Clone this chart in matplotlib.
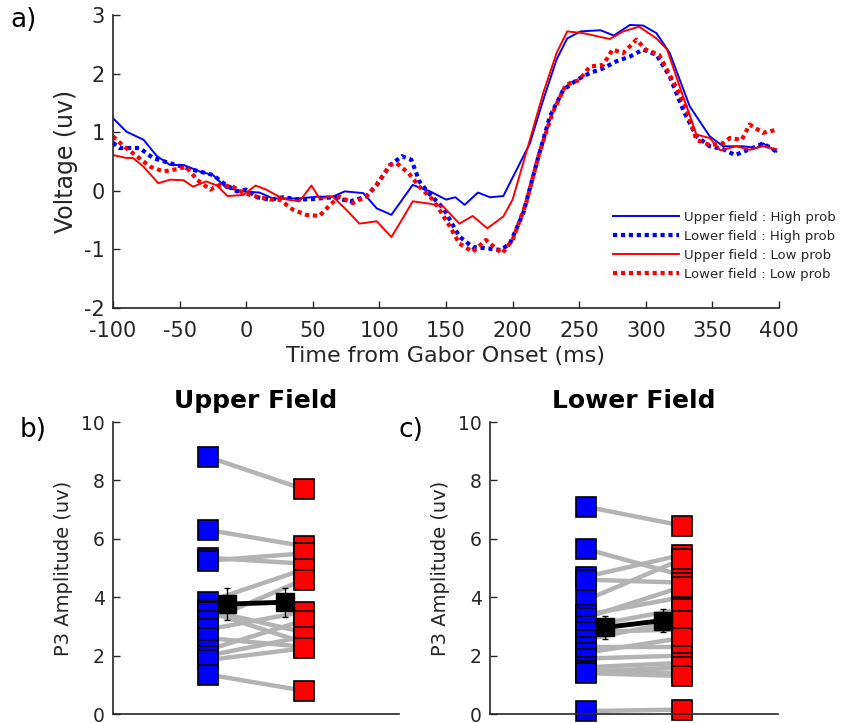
import numpy as np
import matplotlib
matplotlib.use("Agg")
import matplotlib.pyplot as plt

plt.rcParams['axes.unicode_minus'] = False

# ERP waveforms (ms, uV)
t_up_high = [-100, -90, -77, -67, -57, -47, -35, -25, -15, -2, 10, 20, 40, 53, 65, 74, 88, 98, 109, 125,
             138, 150, 157, 164, 174, 183, 193, 203, 213, 223, 233, 241, 251, 266, 276, 288, 298, 308, 318, 333,
             348, 358, 373, 383, 388, 398]
v_up_high = [1.24, 1.01, 0.87, 0.59, 0.44, 0.44, 0.33, 0.27, 0.05, -0.01, -0.03, -0.13, -0.13, -0.10, -0.10, -0.01,
             -0.04, -0.30, -0.41, 0.10, -0.01, -0.15, -0.11, -0.24, -0.03, -0.11, -0.09, 0.36, 0.81, 1.55,
             2.24, 2.60, 2.72, 2.74, 2.65, 2.83, 2.82, 2.69, 2.35, 1.44, 0.93, 0.76, 0.76, 0.73, 0.81, 0.67]

t_lo_high = [-100, -95, -80, -70, -57, -45, -35, -25, -17, -7, 0, 8, 18, 28, 40, 50, 65, 78, 90, 98,
             108, 117, 124, 130, 137, 148, 160, 170, 180, 191, 198, 208, 218, 228, 238, 248, 258, 268, 278, 288,
             298, 308, 318, 328, 338, 348, 358, 367, 378, 388, 398]
v_lo_high = [0.82, 0.73, 0.73, 0.56, 0.47, 0.39, 0.33, 0.27, 0.13, -0.01, 0.02, -0.11, -0.15, -0.11, -0.15, -0.14,
             -0.11, -0.18, -0.10, 0.10, 0.44, 0.59, 0.53, 0.16, -0.04, -0.30, -0.78, -0.96, -0.98, -1.01,
             -0.90, -0.38, 0.47, 1.27, 1.72, 1.89, 2.01, 2.09, 2.21, 2.29, 2.41, 2.32, 1.95, 1.38, 0.93, 0.76,
             0.71, 0.61, 0.71, 0.81, 0.67]

t_up_low = [-100, -90, -85, -77, -66, -57, -47, -40, -30, -22, -14, -2, 7, 15, 28, 40, 49, 55, 65, 75,
            85, 98, 109, 117, 125, 138, 148, 160, 170, 181, 193, 200, 213, 223, 233, 241, 253, 273, 283, 295,
            308, 316, 328, 338, 348, 356, 368, 378, 388, 398]
v_up_low = [0.61, 0.56, 0.56, 0.41, 0.13, 0.19, 0.18, 0.07, 0.16, 0.09, -0.09, -0.07, 0.09, 0.02, -0.14, -0.18,
            0.09, -0.13, -0.10, -0.32, -0.56, -0.52, -0.79, -0.49, -0.18, -0.22, -0.27, -0.56, -0.43, -0.64,
            -0.44, -0.15, 0.87, 1.67, 2.35, 2.72, 2.69, 2.59, 2.72, 2.80, 2.60, 2.41, 1.61, 0.96, 0.90, 0.69,
            0.76, 0.70, 0.76, 0.71]

t_lo_low = [-100, -92, -85, -72, -62, -52, -45, -37, -27, -20, -10, -2, 8, 18, 25, 35, 45, 55, 63, 70,
            80, 90, 98, 108, 113, 122, 130, 140, 145, 153, 160, 170, 180, 192, 200, 210, 220, 230, 240, 250,
            258, 268, 275, 283, 293, 300, 310, 320, 330, 338, 348, 358, 363, 372, 378, 388, 398]
v_lo_low = [0.93, 0.76, 0.64, 0.41, 0.33, 0.37, 0.41, 0.19, 0.02, 0.10, 0.07, -0.04, -0.10, -0.15, -0.15, -0.32,
            -0.41, -0.43, -0.24, -0.10, -0.21, -0.10, 0.10, 0.44, 0.47, 0.30, 0.07, -0.15, -0.32, -0.61,
            -0.90, -1.04, -0.84, -1.07, -0.84, -0.22, 0.64, 1.33, 1.81, 1.89, 2.12, 2.15, 2.41, 2.35, 2.58,
            2.41, 2.32, 1.89, 1.44, 0.87, 0.78, 0.81, 0.90, 0.87, 1.13, 0.99, 1.04]

legend_labels = ['Upper field : High prob', 'Lower field : High prob',
                 'Upper field : Low prob', 'Lower field : Low prob']

# P3 amplitudes per subject (high prob, low prob)
upper_high = [8.8, 6.3, 5.35, 5.25, 3.85, 3.55, 3.5, 3.2, 2.9, 2.6, 2.2, 2.0, 1.85, 1.35]
upper_low = [7.7, 5.75, 5.15, 5.5, 4.95, 2.8, 2.45, 4.6, 3.5, 2.3, 3.2, 2.65, 2.25, 0.8]
lower_high = [7.1, 5.65, 4.7, 4.6, 3.9, 3.4, 3.3, 3.0, 2.8, 2.55, 2.3, 2.1, 1.9, 1.6, 1.5, 1.45, 1.4, 0.1]
lower_low = [6.45, 4.75, 5.45, 4.5, 5.3, 4.0, 4.35, 3.6, 2.9, 3.2, 2.3, 2.6, 2.0, 1.75, 1.4, 1.6, 1.3, 0.15]

dark = '#262626'
W, H = 842, 723
fig = plt.figure(figsize=(W / 100, H / 100), dpi=100)


def px_axes(x0, y0, x1, y1):
    return fig.add_axes([x0 / W, 1 - y1 / H, (x1 - x0) / W, (y1 - y0) / H])


def style_axes(ax):
    for s in ['top', 'right']:
        ax.spines[s].set_visible(False)
    for s in ['left', 'bottom']:
        ax.spines[s].set_color(dark)
        ax.spines[s].set_linewidth(1.2)
    ax.tick_params(direction='in', color=dark, labelcolor=dark, width=1, length=5)


# ---- a) ERP ----
ax = px_axes(113, 15, 779, 308)
style_axes(ax)
dot = (0, (1.0, 0.9))
ax.plot(t_up_high, v_up_high, color='b', lw=1.4, label=legend_labels[0])
ax.plot(t_lo_high, v_lo_high, color='b', lw=3, ls=dot, dash_capstyle='butt', label=legend_labels[1])
ax.plot(t_up_low, v_up_low, color='r', lw=1.4, label=legend_labels[2])
ax.plot(t_lo_low, v_lo_low, color='r', lw=3, ls=dot, dash_capstyle='butt', label=legend_labels[3])
ax.set_xlim(-100, 400)
ax.set_ylim(-2, 3)
ax.set_xticks(np.arange(-100, 401, 50))
ax.set_yticks(np.arange(-2, 4, 1))
ax.tick_params(labelsize=15)
ax.tick_params(axis='x', pad=9)
ax.tick_params(axis='y', pad=6)
ax.set_xlabel('Time from Gabor Onset (ms)', fontsize=16, color=dark, labelpad=4)
ax.set_ylabel('Voltage (uv)', fontsize=17, color=dark, labelpad=4)
leg = ax.legend(loc='upper left', bbox_to_anchor=(613 / W, 1 - 211 / H), bbox_transform=fig.transFigure,
                frameon=False, fontsize=9.5, handlelength=5, handletextpad=0.4, labelspacing=0.45,
                borderpad=0, borderaxespad=0)
for txt in leg.get_texts():
    txt.set_color(dark)

fig.text(10 / W, 1 - 20 / H, 'a)', fontsize=19, va='center', ha='left', color='black')


# ---- b) and c) P3 amplitudes ----
def pair_panel(ax, high, low, title):
    style_axes(ax)
    high = np.array(high)
    low = np.array(low)
    for h, l in zip(high, low):
        ax.plot([1, 2], [h, l], color='#b3b3b3', lw=3.2, zorder=1, solid_capstyle='butt')
    ax.plot(np.ones_like(high), high, ls='none', marker='s', ms=14, mfc='b', mec='black', mew=1.2,
            zorder=2, clip_on=False)
    ax.plot(np.full_like(low, 2), low, ls='none', marker='s', ms=14, mfc='r', mec='black', mew=1.2,
            zorder=2, clip_on=False)
    means = [high.mean(), low.mean()]
    sems = [high.std(ddof=1) / np.sqrt(len(high)), low.std(ddof=1) / np.sqrt(len(low))]
    ax.errorbar([1.2, 1.8], means, yerr=sems, color='black', lw=3.5, marker='s', ms=13, mfc='black',
                mec='black', elinewidth=1, capsize=2.5, capthick=1, zorder=3)
    ax.set_xlim(0, 3)
    ax.set_ylim(0, 10)
    ax.set_yticks(np.arange(0, 11, 2))
    ax.set_xticks([])
    ax.tick_params(labelsize=13.5, pad=6)
    ax.set_ylabel('P3 Amplitude (uv)', fontsize=14, color=dark, labelpad=6)
    ax.set_title(title, fontsize=18, fontweight='bold', pad=10)


axb = px_axes(113, 422, 399, 714)
pair_panel(axb, upper_high, upper_low, 'Upper Field')
axc = px_axes(490, 422, 778, 714)
pair_panel(axc, lower_high, lower_low, 'Lower Field')

fig.text(20 / W, 1 - 430 / H, 'b)', fontsize=19, va='center', ha='left')
fig.text(398 / W, 1 - 430 / H, 'c)', fontsize=19, va='center', ha='left')

fig.savefig('out.png', dpi=100, facecolor='white')
